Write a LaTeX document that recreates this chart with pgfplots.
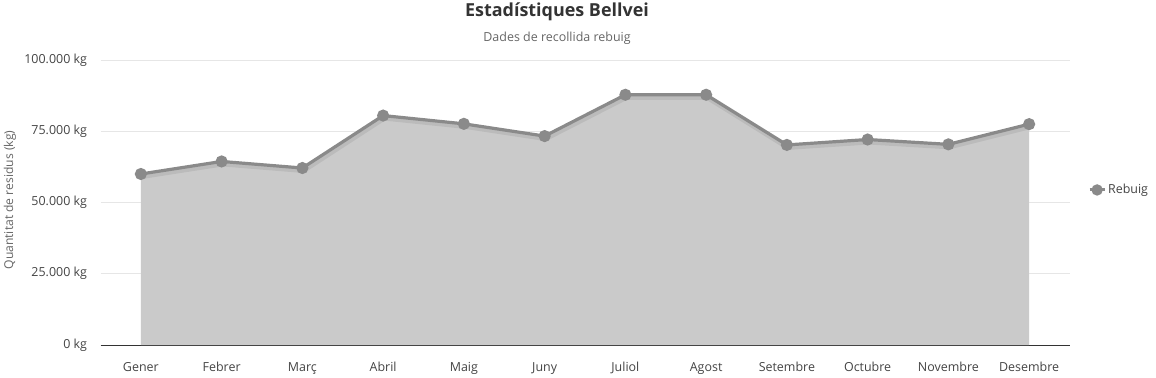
\documentclass[border=0pt]{standalone}
\usepackage{pgfplots}
\pgfplotsset{compat=1.18}
\usepackage{fontspec}
\setmainfont{Open Sans}
\definecolor{fillgray}{RGB}{202,202,202}
\definecolor{linegray}{RGB}{138,138,138}
\definecolor{gridgray}{RGB}{230,230,230}
\definecolor{txt}{RGB}{51,51,51}
\definecolor{ticktxt}{RGB}{68,68,68}
\definecolor{labtxt}{RGB}{102,102,102}
\pgfplotstableread{
x y
0 60000
1 64400
2 62100
3 80500
4 77600
5 73300
6 87800
7 87800
8 70200
9 72100
10 70400
11 77500
}\rebuig
\begin{document}
\begin{tikzpicture}[x=1bp,y=1bp]
\path[use as bounding box] (0bp,0bp) rectangle (1156bp,378bp);
\begin{axis}[
  at={(100.5bp,33bp)}, anchor=south west,
  width=969bp, height=285bp, scale only axis,
  xmin=-0.5, xmax=11.5, ymin=0, ymax=100000,
  xtick={0,...,11},
  xticklabels={Gener,Febrer,Març,Abril,Maig,Juny,Juliol,Agost,Setembre,Octubre,Novembre,Desembre},
  ytick={0,25000,50000,75000,100000},
  yticklabels={0 kg,25.000 kg,50.000 kg,75.000 kg,100.000 kg},
  scaled y ticks=false,
  axis line style={draw=none},
  axis x line*=bottom,
  axis y line*=left,
  x axis line style={draw=txt, line width=0.8bp},
  major tick length=0pt,
  ymajorgrids, grid style={gridgray, line width=0.7bp},
  tick label style={font=\fontsize{12.5}{14}\selectfont, text=ticktxt},
  xticklabel style={yshift=-14bp},
  yticklabel style={xshift=-10bp},
  legend style={at={(1.019,0.544)}, anchor=west, draw=none, fill=none,
    font=\fontsize{12.5}{14}\selectfont, text=ticktxt, inner sep=0pt},
  legend image code/.code={
    \draw[linegray, line width=3bp] (0bp,0bp) -- (15bp,0bp);
    \fill[linegray] (7.5bp,0bp) circle (4bp);
  },
  clip=false,
]
\addplot[fill=fillgray, draw=none, forget plot] table[x=x,y=y]{\rebuig} \closedcycle;
\addplot[draw=black, opacity=0.07, line width=6bp, xshift=1bp, yshift=-2bp, forget plot] table[x=x,y=y]{\rebuig};
\addplot[linegray, line width=3.2bp, mark=*, mark size=4.4bp, mark options={fill=linegray, draw=none}] table[x=x,y=y]{\rebuig};
\addlegendentry{Rebuig}
\end{axis}
\node[text=txt, font=\fontsize{18}{21}\selectfont\bfseries] at (557bp,366bp) {Estadístiques Bellvei};
\node[text=labtxt, font=\fontsize{12.5}{14}\selectfont] at (557bp,340bp) {Dades de recollida rebuig};
\node[text=labtxt, font=\fontsize{12.2}{14}\selectfont, rotate=90] at (10bp,178bp) {Quantitat de residus (kg)};
\end{tikzpicture}
\end{document}
